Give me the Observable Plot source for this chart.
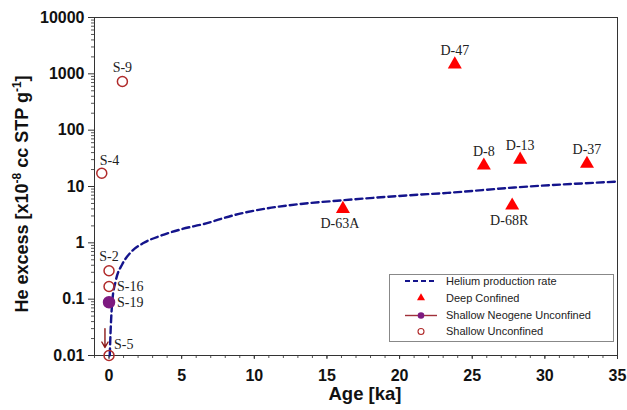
<!DOCTYPE html>
<html><head><meta charset="utf-8">
<script src="https://cdn.jsdelivr.net/npm/d3@7"></script>
<script src="https://cdn.jsdelivr.net/npm/@observablehq/plot@0.6"></script>
<style>
body{margin:0;background:#fff}
#chart{position:relative;width:627px;height:410px}
</style>
</head><body><div id="chart"></div>
<script>
// ---- data ----
const deepLabels = ["D-47", "D-8", "D-13", "D-37", "D-68R", "D-63A"];
const deepAge    = [23.8, 25.8, 28.3, 32.9, 27.75, 16.1];
const deepHe     = [1470, 23.6, 30, 25.3, 4.6, 4.0];
const deepPlace  = ["n", "n", "n", "n", "s", "s"];

const shallowLabels = ["S-9", "S-4", "S-2", "S-16", "S-5"];
const shallowAge    = [0.92, -0.5, 0.0, 0.0, 0.0];
const shallowHe     = [730, 17.2, 0.32, 0.168, 0.01];
const shallowPlace  = ["n", "ne", "n", "e", "ne2"];

const neogeneLabels = ["S-19"];
const neogeneAge    = [0.0];
const neogeneHe     = [0.088];
const neogenePlace  = ["e"];

const prodAge = [0.05, 0.12, 0.23, 0.46, 0.92, 1.5, 2.4, 3.6, 5.0, 6.5, 8.6, 10.9, 13.2, 16.1, 20.7, 23.3, 27.9, 35];
const prodHe  = [0.01, 0.032, 0.095, 0.21, 0.42, 0.68, 1.0, 1.35, 1.75, 2.15, 3.1, 4.1, 4.9, 5.7, 7.0, 7.7, 9.6, 12.2];

const arrowAge = [-0.28];
const arrowFrom = [0.030];
const arrowTo = [0.0139];

const xTicks = [0, 5, 10, 15, 20, 25, 30, 35];
const yTicks = [0.01, 0.1, 1, 10, 100, 1000, 10000];
const legendLabels = ["Helium production rate", "Deep Confined", "Shallow Neogene Unconfined", "Shallow Unconfined"];

// ---- tables ----
const zip = (labels, ages, hes, places) => labels.map((l, i) => ({label: l, age: ages[i], he: hes[i], place: places[i]}));
const deep = zip(deepLabels, deepAge, deepHe, deepPlace);
const shallow = zip(shallowLabels, shallowAge, shallowHe, shallowPlace);
const neogene = zip(neogeneLabels, neogeneAge, neogeneHe, neogenePlace);
const prod = prodAge.map((a, i) => ({age: a, he: prodHe[i]}));
const arrows = arrowAge.map((a, i) => ({age: a, from: arrowFrom[i], to: arrowTo[i]}));
const allLabels = [...deep, ...shallow, ...neogene];

const yMinor = [];
for (let k = -2; k < 4; k++) for (let m = 2; m <= 9; m++) yMinor.push(+(m * Math.pow(10, k)).toPrecision(3));
const xMinor = d3.range(-1, 36);

// label placement (layout)
const placeStyle = {
  n:   {dx: 0,  dy: -14, textAnchor: "middle"},
  s:   {dx: -3, dy: 15,  textAnchor: "middle"},
  e:   {dx: 8,  dy: 0,   textAnchor: "start"},
  ne:  {dx: -2, dy: -13, textAnchor: "start"},
  ne2: {dx: 5,  dy: -11, textAnchor: "start"}
};
const labelMarks = Object.entries(placeStyle).map(([k, s]) =>
  Plot.text(allLabels.filter(d => d.place === k), {
    x: "age", y: "he", text: "label", ...s,
    fontFamily: "Liberation Serif, Times New Roman, serif", fontSize: 14, fill: "#222"
  })
);

const sans = "Liberation Sans, Arial, Helvetica, sans-serif";
const chart = Plot.plot({
  width: 627, height: 410,
  marginLeft: 94, marginRight: 10, marginTop: 17, marginBottom: 55,
  x: {domain: [-1, 35]},
  y: {type: "log", domain: [0.01, 10000]},
  style: {fontFamily: sans, background: "white", color: "#111", overflow: "visible"},
  marks: [
    Plot.axisX({ticks: xMinor, tickSize: 3, tickFormat: () => "", label: null, stroke: "#555"}),
    Plot.axisX({ticks: xTicks, tickSize: 4, tickPadding: 10, label: null, fontSize: 16, fontWeight: "bold", stroke: "#333"}),
    Plot.axisY({ticks: yMinor, tickSize: 3, tickFormat: () => "", label: null, stroke: "#555"}),
    Plot.axisY({ticks: yTicks, tickSize: 6, tickPadding: 4, tickFormat: d => String(d), label: null, fontSize: 16, fontWeight: "bold", stroke: "#333"}),
    Plot.frame({stroke: "#333", strokeWidth: 1}),
    Plot.line(prod, {x: "age", y: "he", curve: "monotone-x", stroke: "#14148c", strokeWidth: 2.4, strokeDasharray: "7,4"}),
    Plot.arrow(arrows, {x1: "age", x2: "age", y1: "from", y2: "to", stroke: "#8b1a1a", strokeWidth: 1.4, headLength: 7}),
    Plot.dot(shallow, {x: "age", y: "he", r: 5, stroke: "#b02a2a", strokeWidth: 1.5, fill: "none"}),
    Plot.dot(neogene, {x: "age", y: "he", r: 5.5, fill: "#7d1a80", stroke: "#7d1a80"}),
    Plot.dot(deep, {x: "age", y: "he", symbol: "triangle", r: 5.2, fill: "#ff0000", stroke: "none"}),
    ...labelMarks,
    Plot.text(["Age [ka]"], {frameAnchor: "bottom", text: d => d, dy: 44, dx: 9, fontSize: 18.5, fontWeight: "bold", fill: "#111"})
  ]
});
document.getElementById("chart").appendChild(chart);

const svg = d3.select(chart);
// y-axis title with superscripts
const yt = svg.append("text")
  .attr("transform", "translate(22,194) rotate(-90)")
  .attr("text-anchor", "middle").attr("dy", "0.35em")
  .attr("font-family", sans).attr("font-size", 18).attr("font-weight", "bold").attr("fill", "#111");
yt.append("tspan").text("He excess [x10");
yt.append("tspan").attr("font-size", 12).attr("dy", -7).text("-8");
yt.append("tspan").attr("dy", 7).text(" cc STP g");
yt.append("tspan").attr("font-size", 12).attr("dy", -7).text("-1");
yt.append("tspan").attr("dy", 7).text("]");

// legend
const lg = svg.append("g").attr("font-family", sans).attr("font-size", 11).attr("fill", "#222").attr("text-anchor", "start");
lg.append("rect").attr("x", 389.5).attr("y", 274.5).attr("width", 224).attr("height", 67)
  .attr("fill", "white").attr("stroke", "#888").attr("stroke-width", 1);
const rowY = [281, 298, 315.5, 331.5];
lg.append("line").attr("x1", 405).attr("x2", 437).attr("y1", rowY[0]).attr("y2", rowY[0])
  .attr("stroke", "#14148c").attr("stroke-width", 2.2).attr("stroke-dasharray", "5,3");
lg.append("path").attr("d", d3.symbol(d3.symbolTriangle, 28)()).attr("transform", `translate(421,${rowY[1]})`).attr("fill", "#ff0000");
lg.append("line").attr("x1", 405).attr("x2", 437).attr("y1", rowY[2]).attr("y2", rowY[2])
  .attr("stroke", "#a0303a").attr("stroke-width", 1.4);
lg.append("circle").attr("cx", 421).attr("cy", rowY[2]).attr("r", 3.3).attr("fill", "#7d1a80");
lg.append("circle").attr("cx", 421).attr("cy", rowY[3]).attr("r", 3).attr("fill", "none").attr("stroke", "#b02a2a").attr("stroke-width", 1.1);
legendLabels.forEach((t, i) => {
  lg.append("text").attr("x", 446).attr("y", rowY[i]).attr("dy", "0.35em").attr("text-anchor", "start").text(t);
});
</script>
</body></html>
